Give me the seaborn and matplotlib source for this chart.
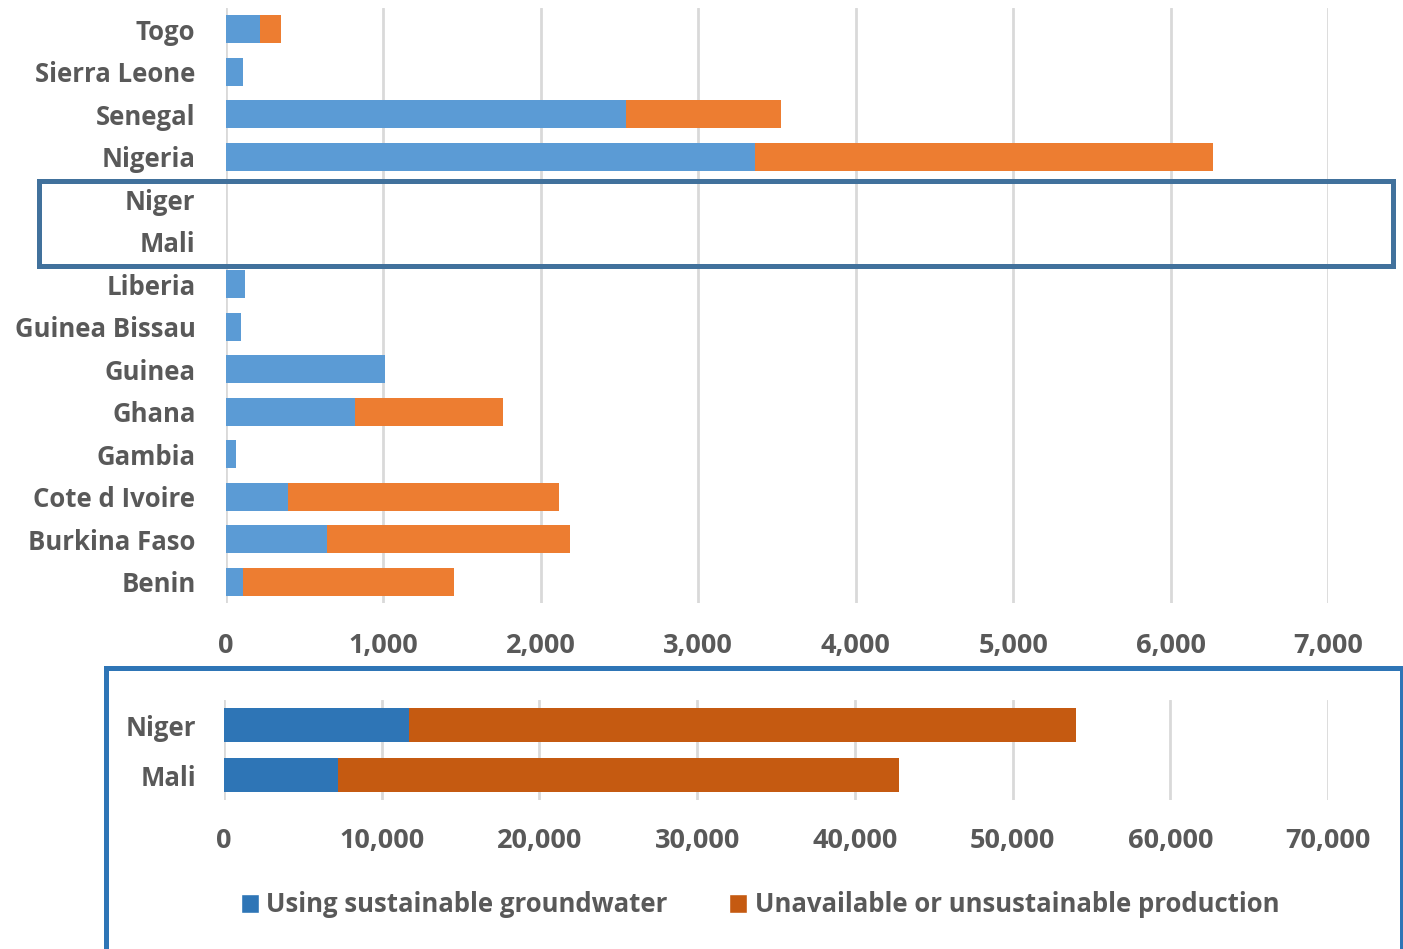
import matplotlib
matplotlib.use("Agg")
import matplotlib.pyplot as plt
from matplotlib.patches import Rectangle, Patch
import seaborn as sns
import pandas as pd

# Countries listed top to bottom
countries = ["Togo", "Sierra Leone", "Senegal", "Nigeria", "Niger", "Mali", "Liberia",
             "Guinea Bissau", "Guinea", "Ghana", "Gambia", "Cote d Ivoire",
             "Burkina Faso", "Benin"]
# Population (thousands) served by sustainable groundwater
sustainable = [216, 108, 2541, 3361, 0, 0, 121, 95, 1010, 820, 64, 394, 642, 108]
# Population (thousands) with unavailable or unsustainable production
unsustainable = [133, 0, 985, 2910, 0, 0, 0, 0, 0, 940, 0, 1722, 1544, 1341]

# Niger and Mali shown separately on their own scale
big_countries = ["Niger", "Mali"]
big_sustainable = [11730, 7230]
big_unsustainable = [42300, 35570]

top_ticks = [0, 1000, 2000, 3000, 4000, 5000, 6000, 7000]
bottom_ticks = [0, 10000, 20000, 30000, 40000, 50000, 60000, 70000]

legend_labels = ["Using sustainable groundwater", "Unavailable or unsustainable production"]

sns.set_theme(style="white")
plt.rcParams["font.family"] = ["Open Sans", "DejaVu Sans"]
plt.rcParams["font.weight"] = "bold"

TEXT = "#595959"
GRID = "#d9d9d9"
FS_CAT = 18.5
FS_TICK = 19.5
FS_LEG = 18.5

W, H = 1403, 949
fig = plt.figure(figsize=(W / 100, H / 100), dpi=100)


def fx(px):
    return px / W


def fy(py):
    return 1 - py / H


def style_axis(ax, ticks, labelpad_x, labelpad_y):
    ax.set_xticks(ticks)
    ax.set_xticklabels([f"{t:,}" for t in ticks])
    ax.grid(axis="x", color=GRID, linewidth=2)
    ax.grid(axis="y", visible=False)
    ax.set_axisbelow(True)
    for s in ax.spines.values():
        s.set_visible(False)
    ax.tick_params(axis="both", length=0, colors=TEXT)
    ax.tick_params(axis="x", pad=labelpad_x, labelsize=FS_TICK)
    ax.tick_params(axis="y", pad=labelpad_y, labelsize=FS_CAT)
    for lab in ax.get_xticklabels() + ax.get_yticklabels():
        lab.set_fontweight("bold")
    ax.set_xlabel("")
    ax.set_ylabel("")


# Top chart
df = pd.DataFrame({"country": countries,
                   "sust": sustainable,
                   "total": [a + b for a, b in zip(sustainable, unsustainable)]})
ax1 = fig.add_axes([fx(226), fy(603), fx(1328) - fx(226), fy(8) - fy(603)])
sns.barplot(data=df, x="total", y="country", order=countries, color="#ED7D31",
            saturation=1, width=0.66, ax=ax1, orient="h", linewidth=0)
sns.barplot(data=df, x="sust", y="country", order=countries, color="#5B9BD5",
            saturation=1, width=0.66, ax=ax1, orient="h", linewidth=0)
ax1.set_xlim(0, 7000)
ax1.set_ylim(len(countries) - 0.5, -0.5)
style_axis(ax1, top_ticks, 21.5, 22)

# Bottom chart
dfb = pd.DataFrame({"country": big_countries,
                    "sust": big_sustainable,
                    "total": [a + b for a, b in zip(big_sustainable, big_unsustainable)]})
ax2 = fig.add_axes([fx(224), fy(800), fx(1328) - fx(224), fy(700) - fy(800)])
sns.barplot(data=dfb, x="total", y="country", order=big_countries, color="#C55A11",
            saturation=1, width=0.68, ax=ax2, orient="h", linewidth=0)
sns.barplot(data=dfb, x="sust", y="country", order=big_countries, color="#2E75B6",
            saturation=1, width=0.68, ax=ax2, orient="h", linewidth=0)
ax2.set_xlim(0, 70000)
ax2.set_ylim(1.5, -0.5)
style_axis(ax2, bottom_ticks, 20.5, 20)

# Highlight box around Niger / Mali rows
fig.patches.append(Rectangle((fx(38.5), fy(265.5)), fx(1392.5) - fx(38.5),
                             fy(181.5) - fy(265.5), transform=fig.transFigure,
                             fill=False, edgecolor="#41719C", linewidth=3.6,
                             zorder=5))
# Frame of the inset panel
fig.patches.append(Rectangle((fx(105.5), fy(960)), fx(1402) - fx(105.5),
                             fy(667.5) - fy(960), transform=fig.transFigure,
                             fill=False, edgecolor="#2E75B6", linewidth=3.6,
                             zorder=5))

handles = [Patch(facecolor="#2E75B6"), Patch(facecolor="#C55A11")]
leg = fig.legend(handles, legend_labels, loc="center", ncol=2,
                 bbox_to_anchor=(fx(760), fy(905)), frameon=False,
                 prop={"size": FS_LEG, "weight": "bold"},
                 handlelength=0.7, handleheight=0.75, handletextpad=0.3,
                 columnspacing=2.4)
for t in leg.get_texts():
    t.set_color(TEXT)

fig.savefig("out.png", dpi=100)
